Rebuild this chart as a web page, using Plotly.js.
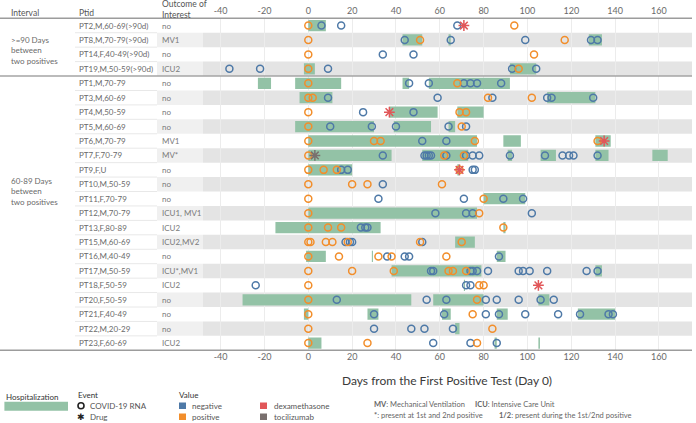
<!DOCTYPE html>
<html><head><meta charset="utf-8">
<script src="https://cdn.plot.ly/plotly-3.0.1.min.js"></script>
<style>html,body{margin:0;padding:0;background:#fff}#chart{width:696px;height:423px}</style>
</head><body><div id="chart"></div><script>
// ---------- data ----------
const intervalLabels = [">=90 Days<br>between<br>two positives", "60-89 Days<br>between<br>two positives"];
const ptids = ["PT2,M,60-69(>90d)","PT8,M,70-79(>90d)","PT14,F,40-49(>90d)","PT19,M,50-59(>90d)",
  "PT1,M,70-79","PT3,M,60-69","PT4,M,50-59","PT5,M,60-69","PT6,M,70-79","PT7,F,70-79","PT9,F,U",
  "PT10,M,50-59","PT11,F,70-79","PT12,M,70-79","PT13,F,80-89","PT15,M,60-69","PT16,M,40-49",
  "PT17,M,50-59","PT18,F,50-59","PT20,F,50-59","PT21,F,40-49","PT22,M,20-29","PT23,F,60-69"];
const outcomes = ["no","MV1","no","ICU2","no","no","no","no","MV1","MV*","no","no","no","ICU1, MV1",
  "ICU2","ICU2,MV2","no","ICU*,MV1","ICU2","no","no","no","ICU2"];
const positiveDays = [[0,94],[0,51,117],[0,103],[0,96],[0,68],[0,2,82,102],[0,69,72],[0,70],
  [0,30,33,76,132],[0,62,71],[0,7,13,69],[0,20,27,61],[0,80],[0,78],[0,9,15,89],[0,1,8,11,18,51,70],
  [0,14,32,38,63],[0,20,39,64,66,72],[0,78,80],[0,77],[0,75],[0,84],[0,27,77]];
const negativeDays = [[6,15,68],[44,65,99,129,132],[34,48],[-36,-22,9,93,104],[46,55,71,74,77,88],
  [9,59,84,109,111,130],[25,48],[10,29,40,64,72],[52,63],
  [34,53,54,55,56,63,72,75,78,92,108,116,119,121,132],[15,18,75,76],[34],[32,71,89,98],[58,72,75,102],
  [24,26,27],[17,19,20,52],[36,44,46,87],[56,57,74,75,77,82,96,98,101,109,127,132],[-24,72,74],
  [13,54,63,81,86,96,106,112],[30,62,81,87,99,114,124,137,139],[30,47,53,66],[57,74,86]];
const dexamethasoneDays = [[71],[],[],[],[],[],[37],[],[135],[],[69],[],[],[],[],[],[],[],[105],[],[],[],[]];
const tocilizumabDays = [[],[],[],[],[],[],[],[],[],[3],[],[],[],[],[],[],[],[],[],[],[],[],[]];
const hospStart = [[0],[43,64,128],[],[-2,92],[-23,-6,43,55],[-4,109],[37,68],[-6,39,64],[0,89,131],
  [0,52,91,106,131,157],[0,68],[],[80],[0],[-15,89],[67],[-1,29,86],[38,131],[71],[-30,57,105],
  [-2,27,61,86,123],[67],[0,85,105]];
const hospEnd = [[8],[52,65,134],[],[3,104],[-17,15,46,92],[11,131],[59,80],[30,56,67],[77,97,138],
  [38,73,93,113,137,164],[20,69],[],[99],[77],[33,90],[76],[8,29.5,90],[79,134],[71.5],[47,80,110],
  [0,32,65,91,140],[69],[6,86,105.7]];
const tickVals = [-40,-20,0,20,40,60,80,100,120,140,160];
const tickText = ["-40","-20","0","20","40","60","80","100","120","140","160"];

// ---------- helpers ----------
const W = 696, H = 423;
const px = v => v / W, py = v => 1 - v / H;
const GREEN = "#93c2a6", BLUE = "#4e79a7", ORANGE = "#f28e2b", RED = "#e15759", GRAY = "#79706e";
const FONT = "Lato, 'Open Sans', sans-serif";

function points(lists) {
  const x = [], y = [];
  lists.forEach((arr, i) => arr.forEach(d => { x.push(d); y.push(i); }));
  return {x, y};
}
const bx = [], bb = [], by = [];
hospStart.forEach((arr, i) => arr.forEach((s, k) => { bb.push(s); bx.push(hospEnd[i][k] - s); by.push(i); }));

const pos = points(positiveDays), neg = points(negativeDays);
const dex = points(dexamethasoneDays), toc = points(tocilizumabDays);

const traces = [
  {type:"bar", orientation:"h", x:bx, base:bb, y:by, width:0.78, marker:{color:GREEN, line:{width:0}}, hoverinfo:"skip"},
  {type:"scatter", mode:"markers", x:neg.x, y:neg.y, marker:{symbol:"circle-open", size:7, color:BLUE, line:{width:1.5}}, hoverinfo:"x"},
  {type:"scatter", mode:"markers", x:pos.x, y:pos.y, marker:{symbol:"circle-open", size:7, color:ORANGE, line:{width:1.5}}, hoverinfo:"x"},
  {type:"scatter", mode:"markers", x:dex.x, y:dex.y, marker:{symbol:"asterisk-open", size:9, color:RED, line:{width:1.5, color:RED}}, hoverinfo:"x"},
  {type:"scatter", mode:"markers", x:toc.x, y:toc.y, marker:{symbol:"asterisk-open", size:9, color:GRAY, line:{width:1.5, color:GRAY}}, hoverinfo:"x"},
  {type:"scatter", mode:"markers", x:[], y:[], xaxis:"x2", yaxis:"y"}
];

const shapes = [];
const annotations = [];
const nRows = ptids.length;
for (let i = 0; i < nRows; i++) {
  if (i % 2 === 1) {
    shapes.push({type:"rect", layer:"below", xref:"paper", yref:"y", x0:px(157), x1:px(203), y0:i-0.5, y1:i+0.5, fillcolor:"#f0f0f0", line:{width:0}});
    shapes.push({type:"rect", layer:"below", xref:"paper", yref:"y", x0:px(203), x1:px(692), y0:i-0.5, y1:i+0.5, fillcolor:"#e4e4e4", line:{width:0}});
  }
  if (i < nRows - 1 && i !== 3) {
    shapes.push({type:"line", layer:"below", xref:"paper", yref:"y", x0:px(75), x1:px(157), y0:i+0.5, y1:i+0.5, line:{color:"#e8e8e8", width:1}});
  }
  annotations.push({xref:"paper", yref:"y", x:px(77), y:i, text:ptids[i], showarrow:false, xanchor:"left", yanchor:"middle", font:{family:FONT, size:8, color:"#6a6a6a"}});
  annotations.push({xref:"paper", yref:"y", x:px(160), y:i, text:outcomes[i], showarrow:false, xanchor:"left", yanchor:"middle", font:{family:FONT, size:8, color:"#7a7a7a"}});
}
// separators
shapes.push({type:"line", xref:"paper", yref:"paper", x0:0, x1:px(692), y0:py(18.3), y1:py(18.3), line:{color:"#9c9c9c", width:1.5}});
shapes.push({type:"line", xref:"paper", yref:"y", x0:0, x1:px(692), y0:3.5, y1:3.5, line:{color:"#a4a4a4", width:1.5}});
shapes.push({type:"line", xref:"paper", yref:"paper", x0:0, x1:px(692), y0:py(350.3), y1:py(350.3), line:{color:"#9c9c9c", width:1.5}});

// headers
const hdr = {family:FONT, size:8.5, color:"#555"};
annotations.push({xref:"paper", yref:"paper", x:px(9), y:py(13), text:"Interval", showarrow:false, xanchor:"left", yanchor:"middle", font:hdr});
annotations.push({xref:"paper", yref:"paper", x:px(77), y:py(13), text:"Ptid", showarrow:false, xanchor:"left", yanchor:"middle", font:hdr});
annotations.push({xref:"paper", yref:"paper", x:px(160), y:py(9.5), text:"Outcome of<br>Interest", align:"left", showarrow:false, xanchor:"left", yanchor:"middle", font:hdr});
annotations.push({xref:"paper", yref:"paper", x:px(9), y:py(51), text:intervalLabels[0], align:"left", showarrow:false, xanchor:"left", yanchor:"middle", font:{family:FONT, size:8, color:"#6a6a6a"}});
annotations.push({xref:"paper", yref:"paper", x:px(9), y:py(191), text:intervalLabels[1], align:"left", showarrow:false, xanchor:"left", yanchor:"middle", font:{family:FONT, size:8, color:"#6a6a6a"}});
// axis title
annotations.push({xref:"paper", yref:"paper", x:px(447), y:py(380), text:"Days from the First Positive Test (Day 0)", showarrow:false, xanchor:"center", yanchor:"middle", font:{family:FONT, size:12, color:"#3a3a3a"}});

// legend
const lg = {family:FONT, size:8, color:"#333"};
const lt = {family:FONT, size:8, color:"#555"};
function txt(x, y, t, f) { annotations.push({xref:"paper", yref:"paper", x:px(x), y:py(y), text:t, showarrow:false, xanchor:"left", yanchor:"middle", font:f}); }
function sq(x0, y0, x1, y1, c) { shapes.push({type:"rect", xref:"paper", yref:"paper", x0:px(x0), x1:px(x1), y0:py(y0), y1:py(y1), fillcolor:c, line:{width:0}}); }
txt(4, 396.7, "Hospitalization", lg);
sq(4.4, 401.7, 68, 410.7, GREEN);
txt(75.5, 394.5, "Event", lg);
shapes.push({type:"circle", xref:"paper", yref:"paper", x0:px(78), x1:px(84), y0:py(402.7), y1:py(408.7), line:{color:"#222", width:1.6}});
txt(88, 405.7, "COVID-19 RNA", lt);
annotations.push({xref:"paper", yref:"paper", x:px(81), y:py(417), text:"✱", showarrow:false, xanchor:"center", yanchor:"middle", font:{family:"DejaVu Sans", size:9, color:"#222"}});
txt(88, 416.7, "Drug", lt);
txt(177, 394.5, "Value", lg);
sq(179, 402.5, 186, 409, BLUE); txt(190, 405.7, "negative", lt);
sq(179, 413.5, 186, 420, ORANGE); txt(190, 416.7, "positive", lt);
sq(260, 402.5, 267, 409, RED); txt(271.5, 405.7, "dexamethasone", lt);
sq(260, 413.5, 267, 420, GRAY); txt(271.5, 416.7, "tocilizumab", lt);
const nt = {family:FONT, size:7.5, color:"#666"};
txt(372, 404, "<b>MV</b>: Mechanical Ventilation", nt);
txt(473, 404, "<b>ICU</b>: Intensive Care Unit", nt);
txt(372, 415, "<b>*</b>: present at 1st and 2nd positive", nt);
txt(497, 415, "<b>1/2</b>: present during the 1st/2nd positive", nt);

const tickFont = {family:FONT, size:9, color:"#6a6a6a"};
const layout = {
  width:W, height:H, margin:{l:0, r:0, t:0, b:0}, paper_bgcolor:"#fff", plot_bgcolor:"rgba(0,0,0,0)",
  showlegend:false, barmode:"overlay", font:{family:FONT, size:8, color:"#666"},
  xaxis:{domain:[px(203), px(692)], range:[-48.05, 175.09], tickmode:"array", tickvals:tickVals, ticktext:tickText,
    showgrid:true, gridcolor:"#ececec", gridwidth:1, zeroline:false, showline:false, ticks:"", tickfont:tickFont, anchor:"y", fixedrange:true},
  xaxis2:{matches:"x", overlaying:"x", side:"top", anchor:"y", tickmode:"array", tickvals:tickVals, ticktext:tickText,
    showgrid:false, zeroline:false, showline:false, ticks:"", tickfont:tickFont, ticklabelstandoff:2},
  yaxis:{domain:[1 - 350.3/H, 1 - 18.3/H], range:[22.5, -0.5], showgrid:false, zeroline:false, showticklabels:false, ticks:"", fixedrange:true},
  shapes:shapes, annotations:annotations
};
Plotly.newPlot("chart", traces, layout, {displayModeBar:false, staticPlot:true});
</script></body></html>
